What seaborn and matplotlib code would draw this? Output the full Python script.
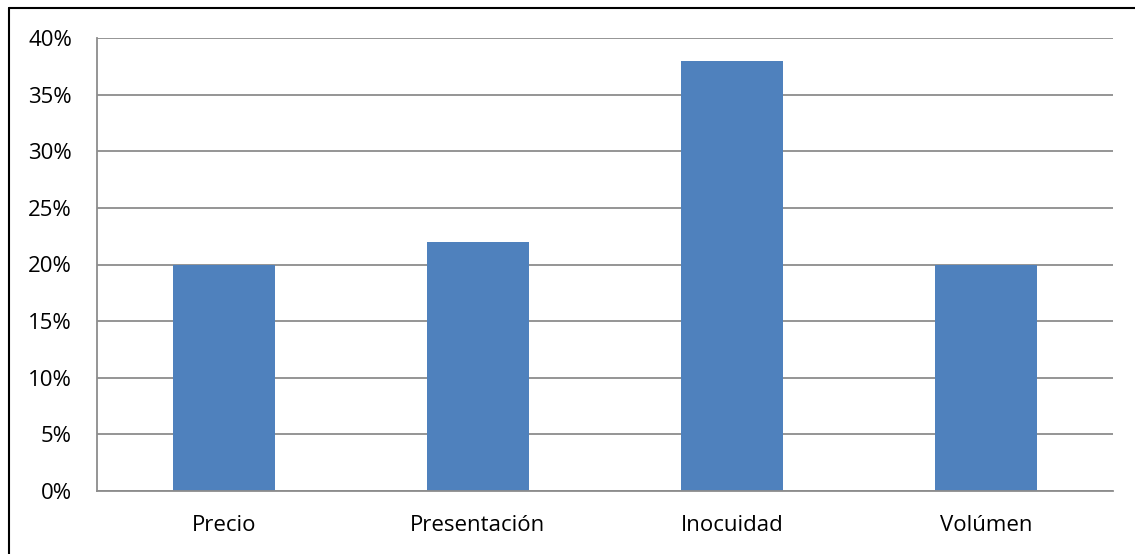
import matplotlib
matplotlib.use("Agg")
import matplotlib.pyplot as plt
import seaborn as sns
import pandas as pd
from matplotlib.lines import Line2D
from matplotlib.ticker import FuncFormatter

# valores
categorias = ["Precio", "Presentación", "Inocuidad", "Volúmen"]
porcentajes = [0.20, 0.22, 0.38, 0.20]

df = pd.DataFrame({"categoria": categorias, "valor": porcentajes})

sns.set_style("white")
plt.rcParams["font.family"] = ["Open Sans", "DejaVu Sans"]

fig = plt.figure(figsize=(11.35, 5.54), dpi=100)
ax = fig.add_axes([97 / 1135, 1 - 491 / 554, (1113 - 97) / 1135, (491 - 38) / 554])

ax.yaxis.grid(True, color="#8c8c8c", linewidth=1.3)
ax.set_axisbelow(True)
sns.barplot(data=df, x="categoria", y="valor", color="#4F81BD", width=0.4,
            saturation=1, linewidth=0, ax=ax)

ax.set_ylim(0, 0.40)
ax.set_yticks([i * 0.05 for i in range(9)])
ax.yaxis.set_major_formatter(FuncFormatter(lambda v, p: f"{round(v * 100)}%"))
ax.set_xlabel("")
ax.set_ylabel("")
ax.tick_params(axis="both", length=0, labelsize=16, colors="black")
ax.tick_params(axis="y", pad=18)
ax.tick_params(axis="x", pad=17)

for s in ["top", "right"]:
    ax.spines[s].set_visible(False)
for s in ["left", "bottom"]:
    ax.spines[s].set_color("#8c8c8c")
    ax.spines[s].set_linewidth(1.3)

# marco del grafico (solo izquierda y arriba visibles)
fig.add_artist(Line2D([9 / 1135, 9 / 1135], [0, 1 - 8 / 554], transform=fig.transFigure,
                      color="black", linewidth=1.5))
fig.add_artist(Line2D([9 / 1135, 1], [1 - 8 / 554, 1 - 8 / 554], transform=fig.transFigure,
                      color="black", linewidth=1.5))

fig.savefig("out.png", dpi=100)
